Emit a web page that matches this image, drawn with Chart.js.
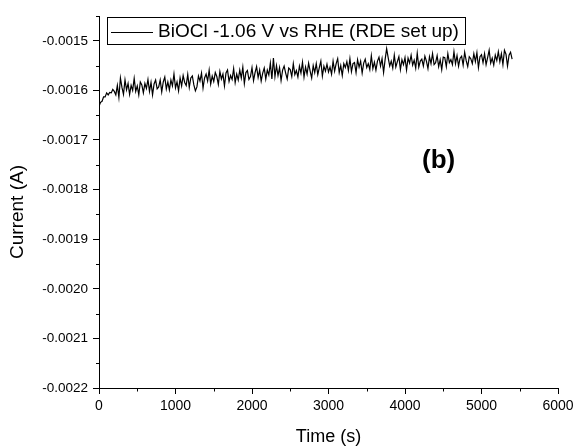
<!DOCTYPE html>
<html>
<head>
<meta charset="utf-8">
<script src="https://cdn.jsdelivr.net/npm/chart.js@4.4.1/dist/chart.umd.min.js"></script>
<style>
html,body{margin:0;padding:0;background:#fff;}
#c{display:block;}
</style>
</head>
<body>
<canvas id="c" width="578" height="446" style="width:578px;height:446px"></canvas>
<script>
const seriesLabel = 'BiOCl -1.06 V vs RHE (RDE set up)';
const xTitle = 'Time (s)';
const yTitle = 'Current (A)';
const panelLabel = '(b)';

const xTicks = [0, 1000, 2000, 3000, 4000, 5000, 6000];
const xMinorTicks = [500, 1500, 2500, 3500, 4500, 5500];
const yTicks = [-0.0022, -0.0021, -0.0020, -0.0019, -0.0018, -0.0017, -0.0016, -0.0015];
const yMinorTicks = [-0.00215, -0.00205, -0.00195, -0.00185, -0.00175, -0.00165, -0.00155, -0.00145];

const timeS = [
0,20,40,60,80,100,120,140,160,180,
200,220,240,260,280,300,320,340,360,380,
400,420,440,460,480,500,520,540,560,580,
600,620,640,660,680,700,720,740,760,780,
800,820,840,860,880,900,920,940,960,980,
1000,1020,1040,1060,1080,1100,1120,1140,1160,1180,
1200,1220,1240,1260,1280,1300,1320,1340,1360,1380,
1400,1420,1440,1460,1480,1500,1520,1540,1560,1580,
1600,1620,1640,1660,1680,1700,1720,1740,1760,1780,
1800,1820,1840,1860,1880,1900,1920,1940,1960,1980,
2000,2020,2040,2060,2080,2100,2120,2140,2160,2180,
2200,2220,2240,2260,2280,2300,2320,2340,2360,2380,
2400,2420,2440,2460,2480,2500,2520,2540,2560,2580,
2600,2620,2640,2660,2680,2700,2720,2740,2760,2780,
2800,2820,2840,2860,2880,2900,2920,2940,2960,2980,
3000,3020,3040,3060,3080,3100,3120,3140,3160,3180,
3200,3220,3240,3260,3280,3300,3320,3340,3360,3380,
3400,3420,3440,3460,3480,3500,3520,3540,3560,3580,
3600,3620,3640,3660,3680,3700,3720,3740,3760,3780,
3800,3820,3840,3860,3880,3900,3920,3940,3960,3980,
4000,4020,4040,4060,4080,4100,4120,4140,4160,4180,
4200,4220,4240,4260,4280,4300,4320,4340,4360,4380,
4400,4420,4440,4460,4480,4500,4520,4540,4560,4580,
4600,4620,4640,4660,4680,4700,4720,4740,4760,4780,
4800,4820,4840,4860,4880,4900,4920,4940,4960,4980,
5000,5020,5040,5060,5080,5100,5120,5140,5160,5180,
5200,5220,5240,5260,5280,5300,5320,5340,5360,5380,
5400
];

const currentA = [
-0.001632,-0.001624,-0.001622,-0.001613,-0.001613,-0.001605,-0.001609,-0.001604,-0.001605,-0.001598,
-0.001602,-0.001609,-0.001590,-0.001614,-0.001575,-0.001594,-0.001608,-0.001579,-0.001599,-0.001586,
-0.001608,-0.001590,-0.001600,-0.001576,-0.001602,-0.001591,-0.001609,-0.001583,-0.001589,-0.001605,
-0.001586,-0.001596,-0.001578,-0.001602,-0.001584,-0.001609,-0.001587,-0.001579,-0.001597,-0.001593,
-0.001579,-0.001603,-0.001583,-0.001573,-0.001597,-0.001583,-0.001599,-0.001579,-0.001591,-0.001567,
-0.001595,-0.001583,-0.001601,-0.001575,-0.001591,-0.001570,-0.001584,-0.001590,-0.001568,-0.001594,
-0.001575,-0.001571,-0.001589,-0.001601,-0.001593,-0.001571,-0.001581,-0.001565,-0.001595,-0.001575,
-0.001567,-0.001581,-0.001559,-0.001587,-0.001571,-0.001582,-0.001564,-0.001572,-0.001588,-0.001562,
-0.001577,-0.001567,-0.001591,-0.001565,-0.001559,-0.001582,-0.001570,-0.001578,-0.001556,-0.001584,
-0.001567,-0.001579,-0.001559,-0.001575,-0.001553,-0.001586,-0.001564,-0.001560,-0.001578,-0.001572,
-0.001554,-0.001580,-0.001564,-0.001552,-0.001574,-0.001559,-0.001581,-0.001565,-0.001555,-0.001577,
-0.001559,-0.001569,-0.001545,-0.001577,-0.001535,-0.001572,-0.001550,-0.001570,-0.001554,-0.001580,
-0.001559,-0.001551,-0.001565,-0.001577,-0.001555,-0.001558,-0.001572,-0.001546,-0.001568,-0.001560,
-0.001573,-0.001551,-0.001565,-0.001543,-0.001573,-0.001553,-0.001567,-0.001545,-0.001561,-0.001575,
-0.001550,-0.001564,-0.001546,-0.001568,-0.001554,-0.001541,-0.001571,-0.001551,-0.001561,-0.001547,
-0.001563,-0.001553,-0.001567,-0.001541,-0.001561,-0.001546,-0.001536,-0.001564,-0.001550,-0.001570,
-0.001546,-0.001554,-0.001542,-0.001560,-0.001536,-0.001562,-0.001546,-0.001544,-0.001564,-0.001538,
-0.001553,-0.001541,-0.001565,-0.001545,-0.001537,-0.001554,-0.001546,-0.001558,-0.001530,-0.001556,
-0.001543,-0.001559,-0.001541,-0.001533,-0.001551,-0.001536,-0.001564,-0.001538,-0.001516,-0.001534,
-0.001551,-0.001541,-0.001555,-0.001529,-0.001553,-0.001542,-0.001532,-0.001558,-0.001538,-0.001548,
-0.001534,-0.001559,-0.001535,-0.001545,-0.001529,-0.001549,-0.001539,-0.001555,-0.001525,-0.001553,
-0.001541,-0.001537,-0.001551,-0.001531,-0.001541,-0.001556,-0.001532,-0.001546,-0.001526,-0.001548,
-0.001544,-0.001530,-0.001552,-0.001538,-0.001558,-0.001533,-0.001534,-0.001552,-0.001526,-0.001544,
-0.001538,-0.001548,-0.001522,-0.001546,-0.001530,-0.001551,-0.001535,-0.001531,-0.001549,-0.001523,
-0.001540,-0.001552,-0.001532,-0.001536,-0.001546,-0.001526,-0.001542,-0.001524,-0.001554,-0.001532,
-0.001528,-0.001544,-0.001526,-0.001548,-0.001534,-0.001519,-0.001545,-0.001535,-0.001549,-0.001529,
-0.001540,-0.001522,-0.001542,-0.001526,-0.001548,-0.001519,-0.001527,-0.001551,-0.001529,-0.001523,
-0.001537
];

const FONT = "'Liberation Sans', Arial, sans-serif";

const points = timeS.map((t, i) => ({x: t, y: currentA[i]}));

const extrasPlugin = {
  id: 'extras',
  afterDraw(chart) {
    const ctx = chart.ctx;
    const xs = chart.scales.x, ys = chart.scales.y;
    const area = chart.chartArea;
    ctx.save();
    ctx.strokeStyle = '#000';
    ctx.lineWidth = 1;
    // minor ticks
    ctx.beginPath();
    xMinorTicks.forEach(v => {
      const px = Math.round(xs.getPixelForValue(v)) + 0.5;
      ctx.moveTo(px, Math.round(area.bottom));
      ctx.lineTo(px, Math.round(area.bottom) + 3.5);
    });
    yMinorTicks.forEach(v => {
      const py = Math.round(ys.getPixelForValue(v)) + 0.5;
      ctx.moveTo(Math.round(area.left) - 3, py);
      ctx.lineTo(Math.round(area.left), py);
    });
    ctx.stroke();

    // legend box
    const bx = 107.5, by = 17.5, bw = 358, bh = 27;
    ctx.fillStyle = '#fff';
    ctx.fillRect(bx, by, bw, bh);
    ctx.strokeRect(bx, by, bw, bh);
    ctx.beginPath();
    ctx.moveTo(111, 32.5);
    ctx.lineTo(153, 32.5);
    ctx.stroke();
    ctx.fillStyle = '#000';
    ctx.font = '19px ' + FONT;
    ctx.textAlign = 'left';
    ctx.textBaseline = 'alphabetic';
    ctx.fillText(chart.data.datasets[0].label, 158, 37);

    // y axis title
    ctx.save();
    ctx.translate(18, 212);
    ctx.rotate(-Math.PI / 2);
    ctx.font = '19px ' + FONT;
    ctx.textAlign = 'center';
    ctx.textBaseline = 'middle';
    ctx.fillText(yTitle, 0, 0);
    ctx.restore();

    // panel label
    ctx.font = 'bold 26px ' + FONT;
    ctx.textAlign = 'center';
    ctx.textBaseline = 'middle';
    ctx.fillText(panelLabel, xs.getPixelForValue(4440), ys.getPixelForValue(-0.001743));
    ctx.restore();
  }
};

new Chart(document.getElementById('c'), {
  type: 'line',
  data: {
    datasets: [{
      label: seriesLabel,
      data: points,
      borderColor: '#000',
      borderWidth: 1.2,
      pointRadius: 0,
      tension: 0,
      fill: false
    }]
  },
  options: {
    responsive: false,
    devicePixelRatio: 1,
    animation: false,
    layout: {padding: {top: 16, right: 20, left: 0, bottom: 0}},
    plugins: {legend: {display: false}, tooltip: {enabled: false}},
    scales: {
      x: {
        type: 'linear',
        min: 0, max: 6000,
        afterBuildTicks: s => { s.ticks = xTicks.map(v => ({value: v})); },
        afterFit: s => { s.height = 58; },
        ticks: {
          font: {family: FONT, size: 14},
          color: '#000',
          padding: 4,
          maxRotation: 0,
          autoSkip: false,
          callback: v => String(v)
        },
        grid: {drawOnChartArea: false, drawTicks: true, tickLength: 6, color: '#000', tickColor: '#000', lineWidth: 1},
        border: {display: true, color: '#000', width: 1},
        title: {display: true, text: xTitle, color: '#000', font: {family: FONT, size: 18, lineHeight: 1}, padding: {top: 0, bottom: 0}}
      },
      y: {
        type: 'linear',
        min: -0.0022, max: -0.00145,
        afterBuildTicks: s => { s.ticks = yTicks.map(v => ({value: v})); },
        afterFit: s => { s.width = 99; },
        ticks: {
          font: {family: FONT, size: 13.5},
          color: '#000',
          padding: 5,
          autoSkip: false,
          callback: v => v.toFixed(4)
        },
        grid: {drawOnChartArea: false, drawTicks: true, tickLength: 6, color: '#000', tickColor: '#000', lineWidth: 1},
        border: {display: true, color: '#000', width: 1},
        title: {display: false, text: yTitle}
      }
    }
  },
  plugins: [extrasPlugin]
});
</script>
</body>
</html>
